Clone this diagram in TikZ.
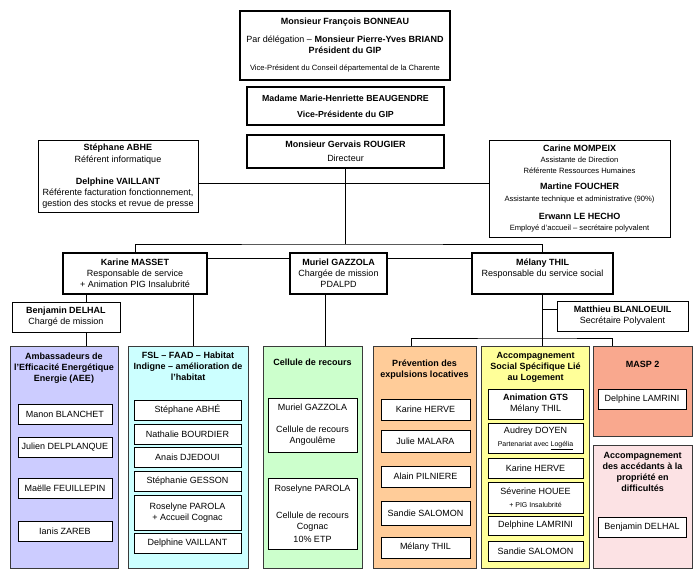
\documentclass[tikz,border=0pt]{standalone}
\usepackage{fontspec}
\setmainfont{Liberation Sans}
\usetikzlibrary{positioning}
\definecolor{poleEdge}   {HTML}{3A3A3A}
\definecolor{poleAEE}    {HTML}{CCCCFF}
\definecolor{poleFSL}    {HTML}{CCFFFF}
\definecolor{poleRecours}{HTML}{CCFFCC}
\definecolor{polePrev}   {HTML}{FFCC99}
\definecolor{poleASSL}   {HTML}{FFFF99}
\definecolor{poleMASP}   {HTML}{F9A88E}
\definecolor{poleAccede} {HTML}{FCE2E4}
\newcommand{\smalltxt}{\fontsize{7.6}{11}\selectfont}
\newcommand{\tinytxt}{\fontsize{7}{11}\selectfont}

\begin{document}
\begin{tikzpicture}[x=1pt, y=-1pt,
        every node/.style={font=\fontsize{9}{11}\selectfont, inner sep=0pt},
        head/.style={draw, line width=1.5pt, fill=white, align=center},
        aide/.style={draw, line width=0.8pt, fill=white, align=center},
        pole/.style={draw=poleEdge, line width=0.8pt},
        ptitle/.style={font=\bfseries\fontsize{9}{11}\selectfont, align=center},
        agent/.style={draw, line width=0.8pt, fill=white, align=center, minimum height=20pt},
        ln/.style={line width=0.8pt}
    ]
    \useasboundingbox[fill=white] (0,0) rectangle (700,581);

    % direction
    \node[head, minimum width=210, minimum height=69] (pres) at (345,45.5)
        {\textbf{Monsieur François BONNEAU}\\[7pt]
         Par délégation -- \textbf{Monsieur Pierre-Yves BRIAND}\\
         \textbf{Président du GIP}\\[6pt]
         {\smalltxt Vice-Président du Conseil départemental de la Charente}};
    \node[head, font=\bfseries\fontsize{8.8}{11}\selectfont, minimum width=197, minimum height=38] (vp) at (345.5,106)
        {Madame Marie-Henriette BEAUGENDRE\\[5pt]Vice-Présidente du GIP};
    \node[head, minimum width=197, minimum height=33] (dir) at (345.5,151.5)
        {\textbf{Monsieur Gervais ROUGIER}\\[3pt]Directeur};
    \node[aide, minimum width=160, minimum height=72] (abhe) at (118,176)
        {\textbf{Stéphane ABHE}\\[1pt]Référent informatique\\[11pt]
         \textbf{Delphine VAILLANT}\\Référente facturation fonctionnement,\\gestion des stocks et revue de presse};
    \node[aide, minimum width=181, minimum height=97] (mompeix) at (579.5,188.5)
        {\textbf{Carine MOMPEIX}\\{\smalltxt Assistante de Direction}\\{\smalltxt Référente Ressources Humaines}\\[5pt]
         \textbf{Martine FOUCHER}\\[1pt]{\smalltxt Assistante technique et administrative (90\%)}\\[7pt]
         \textbf{Erwann LE HECHO}\\{\smalltxt Employé d'accueil -- secrétaire polyvalent}};

    % responsables
    \node[head, minimum width=144, minimum height=41] (masset) at (135,273.5)
        {\textbf{Karine MASSET}\\Responsable de service\\+ Animation PIG Insalubrité};
    \node[head, minimum width=97, minimum height=41] (gazzola) at (338.5,273.5)
        {\textbf{Muriel GAZZOLA}\\Chargée de mission\\PDALPD};
    \node[head, minimum width=141, minimum height=41] (thil) at (542.5,273.5)
        {\textbf{Mélany THIL}\\Responsable du service social\\~};
    \node[aide, minimum width=108, minimum height=30] (delhal) at (66,317)
        {\textbf{Benjamin DELHAL}\\Chargé de mission};
    \node[aide, minimum width=131, minimum height=30] (blan) at (622.5,316)
        {\textbf{Matthieu BLANLOEUIL}\\Secrétaire Polyvalent};

    % poles
    \node[pole, fill=poleAEE, minimum width=108, minimum height=222] (aee) at (64,457) {};
    \node[pole, fill=poleFSL, minimum width=120, minimum height=222] (fsl) at (188,457) {};
    \node[pole, fill=poleRecours, minimum width=99, minimum height=222] (recours) at (312.5,457) {};
    \node[pole, fill=polePrev, minimum width=103, minimum height=222] (prev) at (424.5,457) {};
    \node[pole, fill=poleASSL, minimum width=108, minimum height=222] (assl) at (535.5,457) {};
    \node[pole, fill=poleMASP, minimum width=99, minimum height=90] (masp) at (642.5,391) {};
    \node[pole, fill=poleAccede, minimum width=99, minimum height=123] (accede) at (642.5,506.5) {};

    \node[ptitle, below=7.5pt of aee.north] (aeeT) {Ambassadeurs de\\l'Efficacité Energétique\\Energie (AEE)};
    \node[ptitle, below=6.5pt of fsl.north] (fslT) {FSL -- FAAD -- Habitat\\Indigne -- amélioration de\\l'habitat};
    \node[ptitle, below=13.5pt of recours.north] (recoursT) {Cellule de recours};
    \node[ptitle, below=14.5pt of prev.north] (prevT) {Prévention des\\expulsions locatives};
    \node[ptitle, below=6.5pt of assl.north] (asslT) {Accompagnement\\Social Spécifique Lié\\au Logement};
    \node[ptitle, below=15.5pt of masp.north] (maspT) {MASP 2};
    \node[ptitle, below=7.5pt of accede.north] (accedeT) {Accompagnement\\des accédants à la\\propriété en\\difficultés};

    % agents
    \node[agent, minimum width=94] (aee1) at (65,414) {Manon BLANCHET};
    \node[agent, minimum width=94] (aee2) at (65,447) {Julien DELPLANQUE};
    \node[agent, minimum width=94] (aee3) at (65,488) {Maëlle FEUILLEPIN};
    \node[agent, minimum width=94] (aee4) at (65,531) {Ianis ZAREB};

    \node[agent, minimum width=107] (fsl1) at (187.5,410) {Stéphane ABHÉ};
    \node[agent, minimum width=107] (fsl2) at (187.5,434) {Nathalie BOURDIER};
    \node[agent, minimum width=107] (fsl3) at (187.5,457) {Anais DJEDOUI};
    \node[agent, minimum width=107] (fsl4) at (187.5,481) {Stéphanie GESSON};
    \node[agent, minimum width=107, minimum height=35] (fsl5) at (187.5,512.5) {Roselyne PAROLA\\+ Accueil Cognac};
    \node[agent, minimum width=107] (fsl6) at (187.5,543) {Delphine VAILLANT};

    \node[agent, minimum width=89, minimum height=54] (rec1) at (312.5,425)
        {Muriel GAZZOLA\\[11pt]Cellule de recours\\Angoulême};
    \node[agent, minimum width=89, minimum height=71] (rec2) at (312.5,513.5)
        {Roselyne PAROLA\\[16pt]Cellule de recours\\Cognac\\[2pt]10\% ETP};

    \node[agent, minimum width=89, minimum height=21] (prev1) at (425.5,409.5) {Karine HERVE};
    \node[agent, minimum width=89, minimum height=22] (prev2) at (425.5,441) {Julie MALARA};
    \node[agent, minimum width=89, minimum height=21] (prev3) at (425.5,476.5) {Alain PILNIERE};
    \node[agent, minimum width=89, minimum height=24] (prev4) at (425.5,513) {Sandie SALOMON};
    \node[agent, minimum width=89, minimum height=21] (prev5) at (425.5,547.5) {Mélany THIL};

    \node[agent, minimum width=95, minimum height=30] (assl1) at (535.5,404) {\textbf{Animation GTS}\\Mélany THIL};
    \node[agent, minimum width=95, minimum height=30] (assl2) at (535.5,438)
        {Audrey DOYEN\\[2pt]{\tinytxt Partenariat avec \underline{Logélia}}};
    \node[agent, minimum width=95] (assl3) at (535.5,468) {Karine HERVE};
    \node[agent, minimum width=95, minimum height=31] (assl4) at (535.5,497.5)
        {Séverine HOUEE\\[2pt]{\tinytxt + PIG Insalubrité}};
    \node[agent, minimum width=95, minimum height=19] (assl5) at (535.5,525.5) {Delphine LAMRINI};
    \node[agent, minimum width=95] (assl6) at (535.5,551) {Sandie SALOMON};

    \node[agent, minimum width=88] (masp1) at (642,399) {Delphine LAMRINI};
    \node[agent, minimum width=88] (accede1) at (642,527) {Benjamin DELHAL};

    % liaisons
    \coordinate (busTop) at (345.5,244);
    \coordinate (busSide) at (345.5,183);
    \coordinate (busBot) at (542.5,338);
    \draw[ln] (dir.south) -- (busTop);
    \draw[ln] (abhe.east |- busSide) -- (mompeix.west |- busSide);
    \draw[ln] (masset.north) |- (busTop) -| (thil.north);
    \draw[ln] ([yshift=-6pt]masset.north east) -- ([yshift=-6pt]gazzola.north west);
    \draw[ln] ([yshift=-6pt]gazzola.north east) -- ([yshift=-6pt]thil.north west);
    \draw[ln] ([xshift=-49pt]masset.south) -- ([xshift=20pt]delhal.north);
    \draw[ln] ([xshift=20pt]delhal.south) -- ([xshift=22pt]aee.north);
    \draw[ln] ([xshift=58pt]masset.south) -- ([xshift=5pt]fsl.north);
    \draw[ln] ([xshift=-13.5pt]gazzola.south) -- ([xshift=12.5pt]recours.north);
    \draw[ln] (thil.south) -- (thil.south |- assl.north);
    \draw[ln] ([yshift=7pt]blan.west) -| (thil.south);
    \draw[ln] ([xshift=-13.5pt]prev.north) |- (busBot) -| ([xshift=-30.5pt]masp.north);
\end{tikzpicture}
\end{document}
